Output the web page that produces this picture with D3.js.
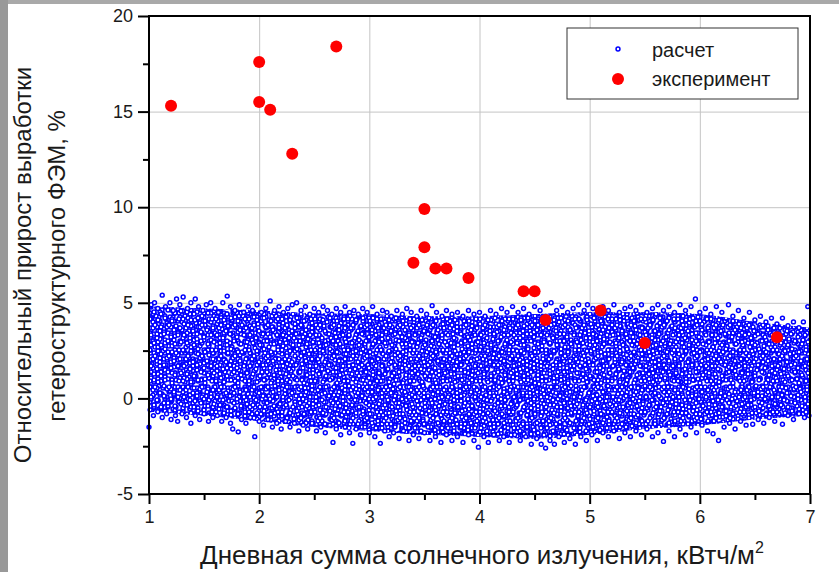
<!DOCTYPE html>
<html>
<head>
<meta charset="utf-8">
<script src="https://cdn.jsdelivr.net/npm/d3@7"></script>
<style>
  body { margin: 0; background: #fff; }
  svg { display: block; font-family: "Liberation Sans", Arial, sans-serif; }
</style>
</head>
<body>
<div id="chart"></div>
<script>
// experiment (red)
var expX = [1.2, 2.0, 2.0, 2.1, 2.3, 2.7, 3.5, 3.4, 3.5, 3.6, 3.7, 3.9, 4.4, 4.5, 4.6, 5.1, 5.5, 6.7];
var expY = [15.3, 17.6, 15.5, 15.1, 12.8, 18.4, 9.9, 7.1, 7.9, 6.8, 6.8, 6.3, 5.6, 5.6, 4.1, 4.6, 2.9, 3.2];

// calculation (blue) - dense core of the cloud, read as upper/lower edge
var bandX  = [1.0, 1.5, 2.0, 2.5, 3.0, 3.5, 4.0, 4.5, 5.0, 5.5, 6.0, 6.5, 7.0];
var bandHi = [4.8, 4.7, 4.6, 4.45, 4.4, 4.3, 4.3, 4.4, 4.5, 4.5, 4.4, 4.0, 3.7];
var bandLo = [-0.7, -0.9, -1.2, -1.5, -1.7, -1.9, -2.0, -2.1, -1.9, -1.6, -1.4, -1.1, -0.9];

// calculation (blue) - loose points along the top of the cloud
var calcTopX = [1.02, 1.05, 1.08, 1.12, 1.15, 1.19, 1.22, 1.25, 1.28, 1.31, 1.35, 1.38, 1.42, 1.45, 1.49, 1.52, 1.56, 1.6, 1.63, 1.67,
  1.71, 1.74, 1.78, 1.82, 1.86, 1.9, 1.94, 1.98, 2.02, 2.06, 2.1, 2.14, 2.18, 2.22, 2.26, 2.3, 2.34, 2.38, 2.42, 2.46,
  2.5, 2.54, 2.58, 2.62, 2.66, 2.7, 2.74, 2.78, 2.82, 2.86, 2.9, 2.94, 2.98, 3.03, 3.07, 3.12, 3.16, 3.2, 3.25, 3.3,
  3.34, 3.38, 3.43, 3.47, 3.52, 3.57, 3.61, 3.66, 3.7, 3.75, 3.8, 3.85, 3.9, 3.95, 4.0, 4.05, 4.1, 4.15, 4.2, 4.25,
  4.3, 4.35, 4.4, 4.45, 4.5, 4.55, 4.6, 4.65, 4.7, 4.75, 4.8, 4.85, 4.9, 4.95, 4.98, 5.03, 5.08, 5.12, 5.17, 5.22,
  5.27, 5.32, 5.37, 5.42, 5.47, 5.52, 5.57, 5.62, 5.67, 5.72, 5.77, 5.82, 5.87, 5.92, 5.96, 6.0, 6.05, 6.1, 6.15, 6.2,
  6.26, 6.3, 6.35, 6.4, 6.45, 6.5, 6.55, 6.6, 6.65, 6.7, 6.75, 6.8, 6.85, 6.9, 6.94, 6.98];
var calcTopY = [4.9, 5.0, 4.7, 5.4, 4.8, 5.0, 4.6, 5.2, 4.9, 5.3, 4.7, 5.0, 5.2, 4.8, 4.6, 4.9, 5.0, 4.7, 4.5, 5.0,
  5.35, 4.8, 4.6, 4.9, 4.5, 4.8, 4.6, 4.9, 4.5, 4.7, 5.1, 4.6, 4.8, 4.5, 4.7, 4.9, 5.0, 4.6, 4.8, 4.4,
  4.7, 4.5, 4.8, 4.6, 4.4, 4.7, 4.5, 4.8, 4.5, 4.6, 4.4, 4.7, 4.5, 4.8, 4.4, 4.6, 4.5, 4.3, 4.6, 4.4,
  4.7, 4.5, 4.3, 4.6, 4.4, 4.85, 4.5, 4.3, 4.6, 4.4, 4.5, 4.3, 4.6, 4.4, 4.5, 4.3, 4.6, 4.4, 4.7, 4.5,
  4.8, 4.5, 4.7, 4.4, 4.8, 4.6, 4.9, 5.0, 4.6, 4.8, 4.5, 4.7, 4.9, 4.6, 4.9, 4.7, 4.5, 4.8, 4.6, 4.9,
  4.5, 4.7, 4.8, 4.6, 4.9, 4.5, 4.7, 4.9, 4.6, 4.8, 4.5, 4.9, 4.6, 4.8, 5.2, 4.5, 4.7, 4.4, 4.8, 4.5,
  4.9, 4.3, 4.6, 4.2, 4.5, 4.1, 4.3, 4.0, 4.2, 3.9, 4.2, 3.8, 4.0, 3.7, 4.0, 4.8];

// calculation (blue) - loose points along the bottom of the cloud
var calcBotX = [1.0, 1.01, 1.04, 1.08, 1.12, 1.16, 1.2, 1.24, 1.26, 1.3, 1.34, 1.38, 1.42, 1.46, 1.5, 1.54, 1.58, 1.62, 1.66, 1.7,
  1.74, 1.76, 1.81, 1.84, 1.88, 1.92, 1.96, 2.0, 2.04, 2.08, 2.12, 2.16, 2.2, 2.24, 2.28, 2.32, 2.36, 2.4, 2.44, 2.48,
  2.52, 2.56, 2.6, 2.64, 2.67, 2.7, 2.74, 2.78, 2.82, 2.85, 2.88, 2.92, 2.96, 3.0, 3.05, 3.1, 3.14, 3.18, 3.22, 3.27,
  3.31, 3.36, 3.4, 3.45, 3.5, 3.55, 3.6, 3.65, 3.7, 3.75, 3.8, 3.85, 3.9, 3.95, 3.99, 4.04, 4.08, 4.13, 4.18, 4.22,
  4.27, 4.32, 4.37, 4.42, 4.47, 4.52, 4.56, 4.6, 4.64, 4.68, 4.72, 4.77, 4.82, 4.87, 4.92, 4.97, 5.02, 5.07, 5.12, 5.17,
  5.22, 5.27, 5.32, 5.37, 5.42, 5.47, 5.52, 5.57, 5.62, 5.67, 5.72, 5.77, 5.82, 5.87, 5.92, 5.97, 6.02, 6.07, 6.12, 6.17,
  6.22, 6.27, 6.32, 6.37, 6.42, 6.48, 6.53, 6.58, 6.63, 6.68, 6.75, 6.8, 6.85, 6.9, 6.95, 6.99];
var calcBotY = [-1.5, -0.6, -0.9, -0.7, -1.0, -0.8, -1.1, -0.9, -1.2, -0.8, -1.0, -1.3, -0.9, -1.1, -0.8, -1.2, -1.0, -0.9, -1.2, -1.0,
  -1.3, -1.6, -1.75, -1.1, -1.3, -1.0, -2.0, -1.2, -1.4, -1.1, -1.5, -1.3, -1.6, -1.2, -1.5, -1.3, -1.7, -1.4, -1.6, -1.3,
  -1.7, -1.5, -1.8, -1.4, -2.3, -1.6, -1.9, -1.5, -1.8, -2.35, -1.6, -1.9, -1.5, -1.8, -2.0, -2.35, -1.7, -2.0, -1.8, -2.1,
  -1.7, -2.2, -1.9, -2.1, -1.8, -2.2, -2.0, -2.3, -1.9, -2.2, -2.0, -2.3, -1.9, -2.2, -2.55, -2.0, -2.3, -1.9, -2.2, -2.0,
  -2.3, -1.9, -2.2, -2.0, -2.4, -2.1, -2.4, -2.6, -2.2, -2.4, -2.0, -2.3, -2.1, -2.4, -2.0, -2.2, -1.9, -2.2, -1.8, -2.0,
  -1.7, -2.1, -1.8, -2.0, -1.7, -1.9, -1.6, -2.0, -1.8, -2.25, -1.7, -2.0, -1.6, -1.9, -1.5, -1.8, -1.4, -1.7, -1.85, -2.2,
  -1.5, -1.3, -1.6, -1.2, -1.4, -1.35, -1.1, -1.3, -1.0, -1.2, -1.35, -0.9, -1.1, -0.8, -1.0, -0.9];

var xTicks = [1, 2, 3, 4, 5, 6, 7];
var yTicks = [-5, 0, 5, 10, 15, 20];
var xMinor = [1.5, 2.5, 3.5, 4.5, 5.5, 6.5];
var yMinor = [-2.5, 2.5, 7.5, 12.5, 17.5];

var legendLabels = ["расчет", "эксперимент"];

// ---- layout
var svgWidth = 839;
var svgHeight = 572;
var margin = { top: 16, right: 29, bottom: 78, left: 149 };
var width = svgWidth - margin.left - margin.right;
var height = svgHeight - margin.top - margin.bottom;

var blue = "#0000ff";
var red = "#ff0000";
var ringR = 1.95, ringW = 1.5;

var svg = d3.select("#chart").append("svg")
  .attr("width", svgWidth)
  .attr("height", svgHeight);

// slide edge
svg.append("rect").attr("x", 0).attr("y", 0).attr("width", svgWidth).attr("height", 4).attr("fill", "#a9a9a9");
svg.append("rect").attr("x", 0).attr("y", 0).attr("width", 8).attr("height", svgHeight).attr("fill", "#999");

var defs = svg.append("defs");
defs.append("clipPath").attr("id", "plotClip")
  .append("rect").attr("width", width).attr("height", height);

// ring texture used to fill the dense part of the cloud (tiles of different size overlap)
var texA = { w: 31, h: 23, pts: [[3,3],[10,2],[17,4],[24,2],[29,6],[6,9],[13,10],[20,8],[26,12],
  [2,15],[9,16],[16,15],[22,18],[29,17],[5,21],[13,21]] };
var texB = { w: 29, h: 37, pts: [[1,1],[7,4],[14,2],[21,5],[26,1],[4,10],[11,9],[18,11],[25,9],
  [1,16],[8,15],[15,17],[22,15],[5,22],[12,23],[19,21],[26,24],[2,29],[9,30],[16,28],[23,31],[13,35]] };
var texC = { w: 37, h: 27, pts: [[2,5],[9,7],[16,3],[23,6],[31,4],[35,11],[5,13],[12,14],[19,12],[27,13],
  [1,20],[8,21],[15,19],[22,22],[29,20],[34,25],[11,26],[4,1],[25,0]] };
var texD = { w: 33, h: 31, pts: [[4,2],[11,5],[18,1],[25,4],[31,2],[2,9],[8,12],[15,8],[22,11],[29,9],
  [5,17],[12,19],[19,15],[26,18],[32,16],[1,24],[9,25],[16,23],[23,26],[30,24],[6,30],[20,30]] };

function addTexture(id, tex) {
  var p = defs.append("pattern")
    .attr("id", id)
    .attr("patternUnits", "userSpaceOnUse")
    .attr("width", tex.w)
    .attr("height", tex.h);
  tex.pts.forEach(function (c) {
    [-tex.w, 0, tex.w].forEach(function (dx) {
      [-tex.h, 0, tex.h].forEach(function (dy) {
        var cx = c[0] + dx, cy = c[1] + dy;
        if (cx < -4 || cx > tex.w + 4 || cy < -4 || cy > tex.h + 4) return;
        p.append("circle")
          .attr("cx", cx).attr("cy", cy).attr("r", ringR)
          .attr("fill", "#fff").attr("stroke", blue).attr("stroke-width", ringW);
      });
    });
  });
}
var textures = { texA: texA, texB: texB, texC: texC, texD: texD };
Object.keys(textures).forEach(k => addTexture(k, textures[k]));

var chartGroup = svg.append("g")
  .attr("transform", `translate(${margin.left}, ${margin.top})`);

var xLinearScale = d3.scaleLinear().domain([1, 7]).range([0, width]);
var yLinearScale = d3.scaleLinear().domain([-5, 20]).range([height, 0]);
var fmt = d => String(d);

// grid
chartGroup.append("g")
  .attr("transform", `translate(0, ${height})`)
  .call(d3.axisBottom(xLinearScale).tickValues(xTicks).tickSize(-height).tickFormat(""))
  .call(g => g.select(".domain").remove())
  .selectAll("line").attr("stroke", "#c4c4c4").attr("stroke-width", 1);
chartGroup.append("g")
  .call(d3.axisLeft(yLinearScale).tickValues(yTicks).tickSize(-width).tickFormat(""))
  .call(g => g.select(".domain").remove())
  .selectAll("line").attr("stroke", "#c4c4c4").attr("stroke-width", 1);

var plot = chartGroup.append("g").attr("clip-path", "url(#plotClip)");

// dense cloud
var band = d3.area()
  .x(i => xLinearScale(bandX[i]))
  .y0(i => yLinearScale(bandLo[i]))
  .y1(i => yLinearScale(bandHi[i]))
  .curve(d3.curveMonotoneX);
var idx = d3.range(bandX.length);
plot.append("path").attr("d", band(idx)).attr("fill", "#fff");
Object.keys(textures).forEach(function (t) {
  plot.append("path").attr("d", band(idx)).attr("fill", `url(#${t})`);
});

// loose blue points
var calcPts = calcTopX.map((x, i) => [x, calcTopY[i]])
  .concat(calcBotX.map((x, i) => [x, calcBotY[i]]));
chartGroup.selectAll("circle.calc")
  .data(calcPts)
  .enter()
  .append("circle")
  .classed("calc", true)
  .attr("cx", d => xLinearScale(d[0]))
  .attr("cy", d => yLinearScale(d[1]))
  .attr("r", ringR)
  .attr("fill", "#fff")
  .attr("stroke", blue)
  .attr("stroke-width", ringW);

// red points
chartGroup.selectAll("circle.exp")
  .data(expX)
  .enter()
  .append("circle")
  .classed("exp", true)
  .attr("cx", d => xLinearScale(d))
  .attr("cy", (d, i) => yLinearScale(expY[i]))
  .attr("r", 6)
  .attr("fill", red);

// axes
function styleAxis(g) {
  g.selectAll("line").attr("stroke", "#000").attr("stroke-width", 2);
  g.selectAll("text").attr("fill", "#1a1a1a").style("font-size", "18px");
}
chartGroup.append("g")
  .attr("transform", `translate(0, ${height})`)
  .call(d3.axisBottom(xLinearScale).tickValues(xMinor).tickSize(6).tickFormat("").tickSizeOuter(0))
  .call(styleAxis);
chartGroup.append("g")
  .call(d3.axisLeft(yLinearScale).tickValues(yMinor).tickSize(6).tickFormat("").tickSizeOuter(0))
  .call(styleAxis);
chartGroup.append("g")
  .attr("transform", `translate(0, ${height})`)
  .call(d3.axisBottom(xLinearScale).tickValues(xTicks).tickSize(10).tickPadding(6).tickFormat(fmt).tickSizeOuter(0))
  .call(styleAxis);
chartGroup.append("g")
  .call(d3.axisLeft(yLinearScale).tickValues(yTicks).tickSize(11).tickPadding(5).tickFormat(fmt).tickSizeOuter(0))
  .call(styleAxis);
svg.selectAll(".domain").remove();

// frame
chartGroup.append("rect")
  .attr("width", width).attr("height", height)
  .attr("fill", "none").attr("stroke", "#000").attr("stroke-width", 2);

// legend
var legend = chartGroup.append("g").attr("transform", "translate(418, 12)");
legend.append("rect")
  .attr("width", 231).attr("height", 71)
  .attr("fill", "#fff").attr("stroke", "#333").attr("stroke-width", 1);
legend.append("circle").attr("cx", 51).attr("cy", 21).attr("r", ringR)
  .attr("fill", "#fff").attr("stroke", blue).attr("stroke-width", ringW);
legend.append("circle").attr("cx", 51).attr("cy", 51).attr("r", 6).attr("fill", red);
legend.selectAll("text.leg")
  .data(legendLabels)
  .enter()
  .append("text")
  .attr("x", 85)
  .attr("y", (d, i) => 29 + i * 29)
  .style("font-size", "20px")
  .attr("fill", "#1a1a1a")
  .text(d => d);

// axis titles
var xTitle = svg.append("text")
  .attr("x", 482).attr("y", 564)
  .attr("text-anchor", "middle")
  .style("font-size", "26px")
  .attr("fill", "#1a1a1a");
xTitle.append("tspan").text("Дневная сумма солнечного излучения, кВтч/м");
xTitle.append("tspan").attr("dy", -11).style("font-size", "16px").text("2");

svg.append("text")
  .attr("transform", "translate(31, 265) rotate(-90)")
  .attr("text-anchor", "middle")
  .style("font-size", "24px")
  .attr("fill", "#1a1a1a")
  .text("Относительный прирост выработки");
svg.append("text")
  .attr("transform", "translate(65, 266) rotate(-90)")
  .attr("text-anchor", "middle")
  .style("font-size", "24px")
  .attr("fill", "#1a1a1a")
  .text("гетероструктурного ФЭМ, %");
</script>
</body>
</html>
